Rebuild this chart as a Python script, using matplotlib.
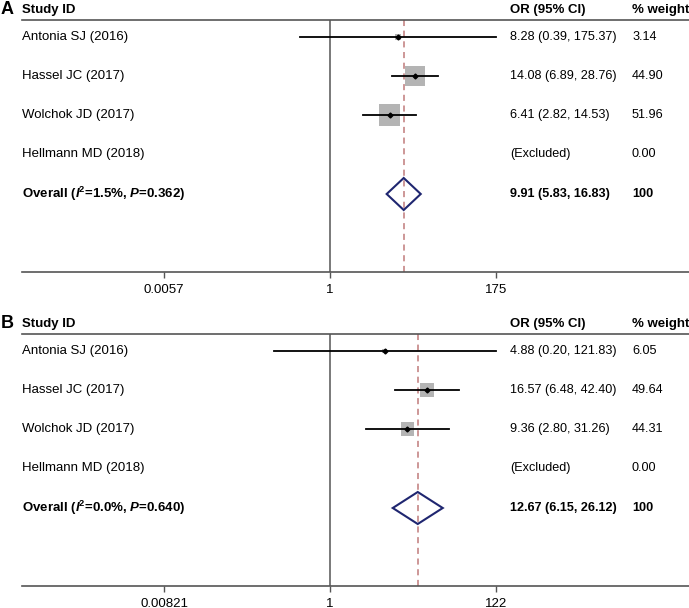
import matplotlib
matplotlib.use("Agg")
import matplotlib.pyplot as plt
from matplotlib.patches import Polygon
from matplotlib.transforms import blended_transform_factory
import numpy as np

plt.rcParams['font.family'] = ['Liberation Sans', 'DejaVu Sans']
plt.rcParams['mathtext.fontset'] = 'custom'
plt.rcParams['mathtext.rm'] = 'Liberation Sans:bold'
plt.rcParams['mathtext.bf'] = 'Liberation Sans:bold'
plt.rcParams['mathtext.it'] = 'Liberation Sans:italic'
plt.rcParams['mathtext.bfit'] = 'Liberation Sans:bold:italic'

studies = ["Antonia SJ (2016)", "Hassel JC (2017)", "Wolchok JD (2017)", "Hellmann MD (2018)"]

# panel A
or_a = [8.28, 14.08, 6.41, None]
lo_a = [0.39, 6.89, 2.82, None]
hi_a = [175.37, 28.76, 14.53, None]
w_a = [3.14, 44.90, 51.96, 0.00]
pool_a = (9.91, 5.83, 16.83)
het_a = ("1.5%", "0.362")
tick_a = [0.0057, 1, 175]

# panel B
or_b = [4.88, 16.57, 9.36, None]
lo_b = [0.20, 6.48, 2.80, None]
hi_b = [121.83, 42.40, 31.26, None]
w_b = [6.05, 49.64, 44.31, 0.00]
pool_b = (12.67, 6.15, 26.12)
het_b = ("0.0%", "0.640")
tick_b = [0.00821, 1, 122]

W, H = 689, 608
fig = plt.figure(figsize=(W / 100, H / 100), dpi=100)

FS = 9.5
FS_NUM = 9.1
AX_COL = '#555555'
X_OR = 510 / W
X_WT = 632 / W


def fmt_ci(o, l, h):
    return "%.2f (%.2f, %.2f)" % (o, l, h)


def panel(letter, top, bottom, ors, los, his, ws, pool, het, ticks, box_k):
    ax = fig.add_axes([22 / W, 1 - bottom / H, (W - 22) / W, (bottom - top) / H])
    ax.set_xscale('log')
    hi_t = ticks[-1]
    ppd = 166 / np.log10(hi_t)          # pixels per decade
    ax.set_xlim(10 ** (-(330 - 22) / ppd), 10 ** ((W - 330) / ppd))
    hgt = bottom - top
    ax.set_ylim(hgt, 0)
    for s in ['left', 'right']:
        ax.spines[s].set_visible(False)
    for s in ['top', 'bottom']:
        ax.spines[s].set_color(AX_COL)
        ax.spines[s].set_linewidth(1.2)
    ax.set_yticks([])
    ax.set_xticks(ticks)
    ax.set_xticklabels(["%g" % t for t in ticks], fontsize=FS)
    ax.minorticks_off()
    ax.tick_params(axis='x', length=4.3, color=AX_COL, width=1, pad=4)

    ax.axvline(1, color=AX_COL, lw=1.1, zorder=1)
    ax.axvline(pool[0], color='#c07a7a', lw=1.1, ls=(0, (4, 3)), zorder=1)

    rows = [17 + 39 * i for i in range(len(studies))]
    tr = blended_transform_factory(fig.transFigure, ax.transData)

    for i, name in enumerate(studies):
        y = rows[i]
        ax.text(22 / W, y, name, transform=tr, fontsize=FS, va='center', ha='left')
        if ors[i] is None:
            ax.text(X_OR, y, "(Excluded)", transform=tr, fontsize=FS_NUM, va='center')
        else:
            side = box_k * np.sqrt(ws[i])
            ax.scatter([ors[i]], [y], marker='s', s=(side * 0.72) ** 2,
                       color='#b4b4b4', edgecolor='none', zorder=2)
            ax.plot([los[i], his[i]], [y, y], color='black', lw=1.3, zorder=3, clip_on=True)
            ax.plot([ors[i]], [y], marker='D', ms=2.5, color='black', zorder=4)
            ax.text(X_OR, y, fmt_ci(ors[i], los[i], his[i]), transform=tr,
                    fontsize=FS_NUM, va='center')
        ax.text(X_WT, y, "%.2f" % ws[i], transform=tr, fontsize=FS_NUM, va='center')

    # pooled
    yp = 17 + 39 * len(studies) + 1
    o, l, h = pool
    dia = Polygon([(l, yp), (o, yp - 16), (h, yp), (o, yp + 16)], closed=True,
                  facecolor='none', edgecolor='#1f2670', lw=1.5, zorder=5)
    ax.add_patch(dia)
    lab = r"Overall ($\mathbfit{I}^{\mathbf{2}}$=%s, $\mathbfit{P}$=%s)" % het
    ax.text(22 / W, yp, lab, transform=tr, fontsize=FS, va='center', fontweight='bold')
    ax.text(X_OR, yp, fmt_ci(o, l, h), transform=tr, fontsize=FS_NUM, va='center',
            fontweight='bold')
    ax.text(X_WT, yp, "100", transform=tr, fontsize=FS_NUM, va='center', fontweight='bold')

    # headers
    yh = -10
    ax.text(22 / W, yh, "Study ID", transform=tr, fontsize=FS, va='center', fontweight='bold')
    ax.text(X_OR, yh, "OR (95% CI)", transform=tr, fontsize=FS, va='center', fontweight='bold')
    ax.text(X_WT, yh, "% weight", transform=tr, fontsize=FS, va='center', fontweight='bold')
    ax.text(0.5 / W, yh, letter, transform=tr, fontsize=13, va='center', fontweight='bold')
    return ax


panel("A", 20, 272, or_a, lo_a, hi_a, w_a, pool_a, het_a, tick_a, 2.95)
panel("B", 334, 586, or_b, lo_b, hi_b, w_b, pool_b, het_b, tick_b, 2.0)

fig.savefig("out.png", dpi=100)
